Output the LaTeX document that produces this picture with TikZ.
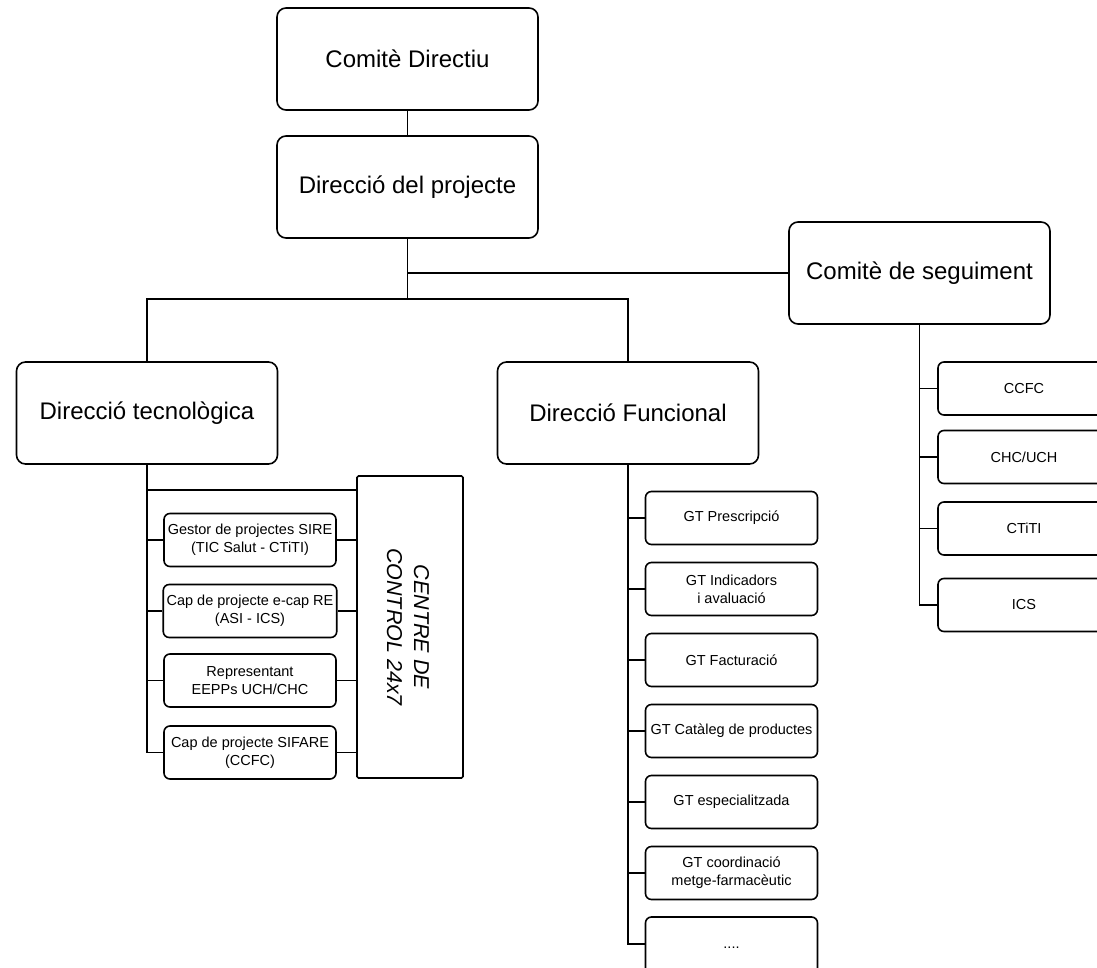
\documentclass[tikz,border=0pt]{standalone}
\usepackage{fontspec}
\setmainfont{Liberation Sans}
\usepackage{tikz}

\begin{document}
\begin{tikzpicture}[x=1pt,y=-1pt,line width=1.6pt,
  bigbox/.style={draw,rounded corners=9pt,minimum width=261pt,minimum height=102pt,font=\fontsize{24}{28}\selectfont},
  smallbox/.style={draw,rounded corners=6pt,minimum width=172pt,minimum height=53pt,align=center,font=\fontsize{14.5}{18}\selectfont},
  ctrlbox/.style={draw,rounded corners=1.5pt,minimum width=106pt,minimum height=302pt}]
\useasboundingbox (0,0) rectangle (1097,968);
\clip (0,0) rectangle (1097,968);
\node[bigbox] (cd) at (407.5,59) {Comitè Directiu};
\node[bigbox] (dp) at (407.5,187) {Direcció del projecte};
\node[bigbox] (cs) at (919.5,273) {Comitè de seguiment};
\node[bigbox] (dt) at (147,413) {Direcció tecnològica};
\node[bigbox] (df) at (628,413) {Direcció Funcional};
\coordinate (split) at (407.5,299);
\draw (cd) edge (dp);
\draw (dp.south) |- (cs.west);
\draw (dp.south) -- (split);
\draw (split) -| (dt.north);
\draw (split) -| (df.north);

% tecnologica
\node[ctrlbox] (ctrl) at (410,627) {};
\node[rotate=-90,align=center,font=\fontsize{21.5}{27}\selectfont\itshape] (ctrltext) at (408,627) {CENTRE DE\\CONTROL 24x7};
\node[smallbox] (gsire) at (250,540) {Gestor de projectes SIRE\\(TIC Salut - CTiTI)};
\node[smallbox] (ecap) at (250,611) {Cap de projecte e-cap RE\\(ASI - ICS)};
\node[smallbox] (eepp) at (250,680.5) {Representant\\EEPPs UCH/CHC};
\node[smallbox] (sifare) at (250,752.5) {Cap de projecte SIFARE\\(CCFC)};
\draw (dt.south) |- ([yshift=-15pt]ctrl.north west);
\draw (dt.south) |- (sifare.west);
\draw (dt.south |- gsire.west) -- (gsire.west);
\draw (dt.south |- ecap.west) -- (ecap.west);
\draw (dt.south |- eepp.west) -- (eepp.west);
\draw (gsire.east) -- (gsire.east -| ctrl.west);
\draw (ecap.east) -- (ecap.east -| ctrl.west);
\draw (eepp.east) -- (eepp.east -| ctrl.west);
\draw (sifare.east) -- (sifare.east -| ctrl.west);

% funcional
\node[smallbox] (gtpresc) at (731.5,518) {GT Prescripció};
\node[smallbox] (gtindic) at (731.5,589) {GT Indicadors\\ i avaluació};
\node[smallbox] (gtfact) at (731.5,660) {GT Facturació};
\node[smallbox] (gtcatal) at (731.5,731) {GT Catàleg de productes};
\node[smallbox] (gtespec) at (731.5,802) {GT especialitzada};
\node[smallbox] (gtcoord) at (731.5,873) {GT coordinació\\metge-farmacèutic};
\node[smallbox,minimum height=62pt] (gtetc) at (731.5,948) {....};
\draw (df.south) |- ([yshift=4pt]gtetc.west);
\draw (df.south |- gtpresc.west) -- (gtpresc.west);
\draw (df.south |- gtindic.west) -- (gtindic.west);
\draw (df.south |- gtfact.west) -- (gtfact.west);
\draw (df.south |- gtcatal.west) -- (gtcatal.west);
\draw (df.south |- gtespec.west) -- (gtespec.west);
\draw (df.south |- gtcoord.west) -- (gtcoord.west);

% seguiment
\node[smallbox] (ccfc) at (1024,388.5) {CCFC};
\node[smallbox] (chc) at (1024,457) {CHC/UCH};
\node[smallbox] (ctiti) at (1024,528.5) {CTiTI};
\node[smallbox] (ics) at (1024,605) {ICS};
\draw (cs.south) |- (ics.west);
\draw (cs.south |- ccfc.west) -- (ccfc.west);
\draw (cs.south |- chc.west) -- (chc.west);
\draw (cs.south |- ctiti.west) -- (ctiti.west);
\end{tikzpicture}
\end{document}
